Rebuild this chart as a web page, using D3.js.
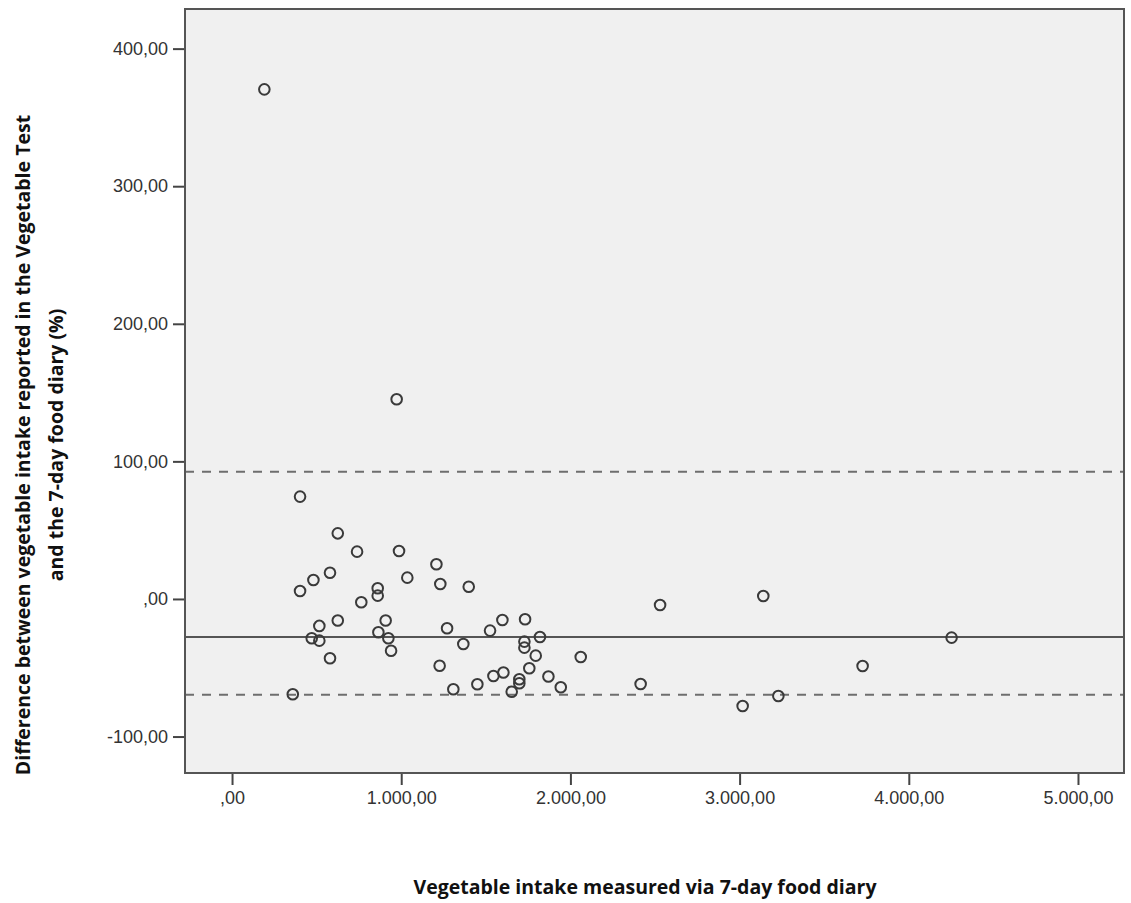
<!DOCTYPE html>
<html>
<head>
<meta charset="utf-8">
<script src="https://cdn.jsdelivr.net/npm/d3@7"></script>
<style>
  body { margin: 0; background: #ffffff; }
  .tick text { font-family: "Liberation Sans", Arial, sans-serif; font-size: 18px; fill: #333; }
  .axis-label { font-family: "Open Sans", "Liberation Sans", sans-serif; font-weight: bold; fill: #111; }
</style>
</head>
<body>
<svg id="bland" width="1131" height="903"></svg>
<script>
// vegetable intake from the 7-day food diary (x)
var diaryIntake = [191, 973, 402, 625, 739, 987, 1208, 1036, 579, 481,
                   402, 861, 861, 1231, 1399, 764, 625, 908, 516, 1271,
                   1525, 1598, 471, 516, 865, 924, 940, 1367, 579, 1227,
                   1308, 1450, 1545, 359, 1732, 1728, 1728, 1820, 1795, 2061,
                   1757, 1604, 1870, 1698, 1698, 1653, 1943, 2415, 2530, 3140,
                   3018, 3229, 4253, 3727]
// difference Vegetable Test vs diary (%)
var difference = [370.4, 145.1, 74.4, 47.7, 34.4, 34.9, 25.2, 15.5, 19.1, 13.8,
                  5.8, 7.8, 2.4, 10.9, 8.9, -2.4, -15.7, -15.7, -19.6, -21.3,
                  -23.0, -15.3, -28.6, -30.3, -24.2, -28.6, -37.6, -32.7, -43.1, -48.5,
                  -65.6, -62.0, -56.0, -69.3, -14.8, -31.0, -35.4, -27.6, -41.2, -42.2,
                  -50.4, -53.5, -56.4, -58.4, -61.3, -67.4, -64.2, -61.8, -4.4, 2.2,
                  -77.8, -70.5, -28.1, -48.7]

var meanDiff = -27.6
var limitLines = [92.4, -69.6]

var xTicks = [0, 1000, 2000, 3000, 4000, 5000]
var yTicks = [-100, 0, 100, 200, 300, 400]

var locale = d3.formatLocale({decimal: ",", thousands: ".", grouping: [3], currency: ["", ""], minus: "-"})
var fmt = function(v) {
    var s = locale.format(",.2f")(v)
    return s.replace(/^0,/, ",")   // SPSS drops the leading zero
}

var margin = {left: 185, right: 7, top: 9, bottom: 130}
var screen = {width: 1131, height: 903}
var graph = {
    width: screen.width - margin.left - margin.right,
    height: screen.height - margin.top - margin.bottom
}

var xScale = d3.scaleLinear()
    .domain([-278, 5272])
    .range([0, graph.width])

var yScale = d3.scaleLinear()
    .domain([-126.5, 428.8])
    .range([graph.height, 0])

var svg = d3.select("#bland")

var target = svg.append("g")
    .attr("transform", "translate(" + margin.left + "," + margin.top + ")")

// plot background
target.append("rect")
    .attr("x", 0).attr("y", 0)
    .attr("width", graph.width).attr("height", graph.height)
    .attr("fill", "#f0f0f0")

// limits of agreement
target.selectAll(".limit")
    .data(limitLines)
    .enter()
    .append("line")
      .attr("class", "limit")
      .attr("x1", 0).attr("x2", graph.width)
      .attr("y1", d => yScale(d)).attr("y2", d => yScale(d))
      .attr("stroke", "#6e6e6e")
      .attr("stroke-width", 2)
      .attr("stroke-dasharray", "9,8")

// mean difference
target.append("line")
    .attr("x1", 0).attr("x2", graph.width)
    .attr("y1", yScale(meanDiff)).attr("y2", yScale(meanDiff))
    .attr("stroke", "#555")
    .attr("stroke-width", 2)

// points
target.selectAll(".pt")
    .data(diaryIntake)
    .enter()
    .append("circle")
      .attr("class", "pt")
      .attr("cx", d => xScale(d))
      .attr("cy", (d, i) => yScale(difference[i]))
      .attr("r", 5.3)
      .attr("fill", "none")
      .attr("stroke", "#3a3a3a")
      .attr("stroke-width", 2)

// frame
target.append("rect")
    .attr("x", 0).attr("y", 0)
    .attr("width", graph.width).attr("height", graph.height)
    .attr("fill", "none")
    .attr("stroke", "#555")
    .attr("stroke-width", 2)

// axes
var xAxis = d3.axisBottom(xScale).tickValues(xTicks).tickFormat(fmt).tickSize(11).tickSizeOuter(0)
var yAxis = d3.axisLeft(yScale).tickValues(yTicks).tickFormat(fmt).tickSize(11).tickSizeOuter(0)

var gx = target.append("g").attr("class", "axis-x")
    .attr("transform", "translate(0," + (graph.height + 1) + ")")
    .call(xAxis)
gx.select(".domain").remove()
gx.selectAll(".tick line").attr("stroke", "#444").attr("stroke-width", 2)
gx.selectAll(".tick text").attr("y", 17).attr("dy", "0.71em")

var gy = target.append("g").attr("class", "axis-y")
    .attr("transform", "translate(-1,0)")
    .call(yAxis)
gy.select(".domain").remove()
gy.selectAll(".tick line").attr("stroke", "#444").attr("stroke-width", 2)
gy.selectAll(".tick text").attr("x", -16)

// axis titles
svg.append("text")
    .attr("class", "axis-label")
    .attr("text-anchor", "middle")
    .attr("x", 645)
    .attr("y", 894)
    .style("font-size", "19.5px")
    .text("Vegetable intake measured via 7-day food diary")

var ylab = svg.append("text")
    .attr("class", "axis-label")
    .attr("text-anchor", "middle")
    .attr("transform", "translate(0,445) rotate(-90)")
    .style("font-size", "19.5px")
ylab.append("tspan").attr("x", 0).attr("y", 30)
    .text("Difference between vegetable intake reported in the Vegetable Test")
ylab.append("tspan").attr("x", 0).attr("y", 63)
    .text("and the 7-day food diary (%)")
</script>
</body>
</html>
